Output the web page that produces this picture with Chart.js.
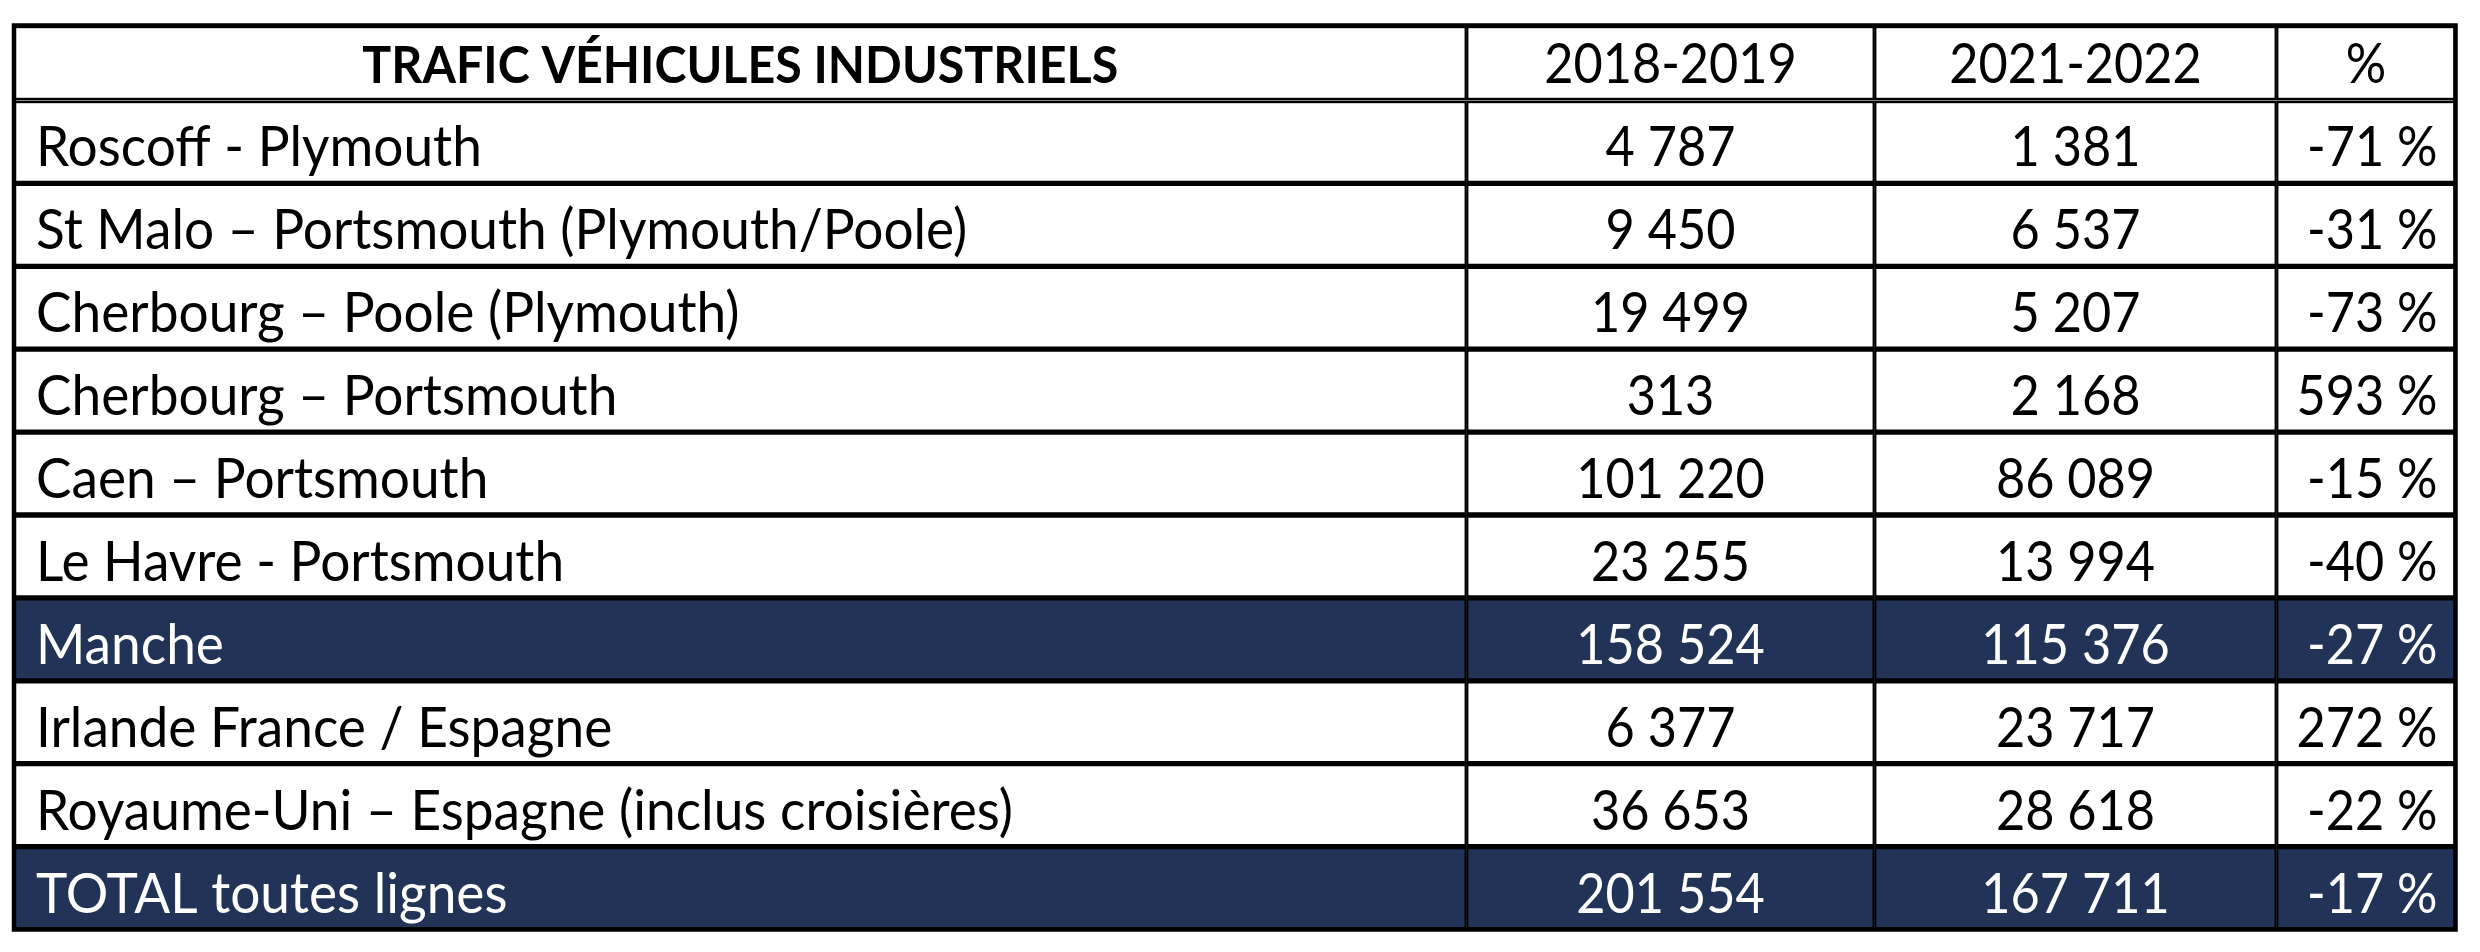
<!DOCTYPE html>
<html lang="fr">
<head>
<meta charset="utf-8">
<title>Trafic véhicules industriels</title>
<script src="https://cdn.jsdelivr.net/npm/chart.js"></script>
<style>
  html, body { margin: 0; padding: 0; background: #fff; }
  #wrap { width: 2480px; height: 952px; }
</style>
</head>
<body>
<div id="wrap"><canvas id="table"></canvas></div>
<script>
const headers = ["TRAFIC VÉHICULES INDUSTRIELS", "2018-2019", "2021-2022", "%"];
const routes = [
  "Roscoff - Plymouth",
  "St Malo – Portsmouth (Plymouth/Poole)",
  "Cherbourg – Poole (Plymouth)",
  "Cherbourg – Portsmouth",
  "Caen – Portsmouth",
  "Le Havre - Portsmouth",
  "Manche",
  "Irlande France / Espagne",
  "Royaume-Uni – Espagne (inclus croisières)",
  "TOTAL toutes lignes"
];
const trafic2019 = [4787, 9450, 19499, 313, 101220, 23255, 158524, 6377, 36653, 201554];
const trafic2022 = [1381, 6537, 5207, 2168, 86089, 13994, 115376, 23717, 28618, 167711];
const evolution = [-71, -31, -73, 593, -15, -40, -27, 272, -22, -17];
const totalRows = ["Manche", "TOTAL toutes lignes"];

// layout (pixels)
const colWidths = [1452.5, 408, 402, 179];
const colEdges = colWidths.reduce((a, w) => a.concat(a[a.length - 1] + w), [0]);
const navy = "#213457";
const condenseHead = 0.93;
const condenseText = 0.95;
const condenseNum = 0.9;

const fmt = n => String(n).replace(/\B(?=(\d{3})+(?!\d))/g, " ");
const cellText = [
  i => routes[i],
  i => fmt(trafic2019[i]),
  i => fmt(trafic2022[i]),
  i => evolution[i] + " %"
];
const isTotal = i => totalRows.includes(routes[i]);

const cellStyle = {
  borderColor: "#000",
  borderWidth: { left: 2.25, right: 2.25, top: 3, bottom: 3 },
  borderSkipped: false,
  barPercentage: 1,
  categoryPercentage: 1,
  grouped: false
};

const datasets = [];
headers.forEach((h, c) => {
  datasets.push({
    ...cellStyle, label: h, yAxisID: "yh", col: c, header: true,
    data: [[colEdges[c], colEdges[c + 1]]],
    backgroundColor: "#fff"
  });
  datasets.push({
    ...cellStyle, label: h, yAxisID: "y", col: c, header: false,
    data: routes.map(() => [colEdges[c], colEdges[c + 1]]),
    backgroundColor: routes.map((r, i) => isTotal(i) ? navy : "#fff")
  });
});

const cellLabels = {
  id: "cellLabels",
  afterDatasetsDraw(chart) {
    const ctx = chart.ctx;
    const area = chart.chartArea;
    ctx.save();
    ctx.strokeStyle = "#000";
    ctx.lineWidth = 4.5;
    ctx.strokeRect(area.left, area.top, area.right - area.left, area.bottom - area.top);

    chart.data.datasets.forEach((ds, d) => {
      chart.getDatasetMeta(d).data.forEach((bar, i) => {
        const { x, base, y } = bar.getProps(["x", "base", "y"], true);
        const left = Math.min(x, base), right = Math.max(x, base);
        let text, align, tx, ty, sx;
        ctx.fillStyle = "#000";
        if (ds.header) {
          text = headers[ds.col];
          ctx.font = ds.col === 0 ? "bold 52px Lato" : "56px Lato";
          sx = ds.col === 0 ? condenseHead : condenseNum;
          align = "center"; tx = (left + right) / 2; ty = y + 20;
        } else {
          text = cellText[ds.col](i);
          ctx.font = "56px Lato";
          sx = ds.col === 0 ? condenseText : condenseNum;
          if (isTotal(i)) ctx.fillStyle = "#fff";
          ty = y + 24.5;
          if (ds.col === 0) { align = "left"; tx = left + 22; }
          else if (ds.col === 3) { align = "right"; tx = right - 18; }
          else { align = "center"; tx = (left + right) / 2; }
        }
        ctx.textAlign = align;
        ctx.textBaseline = "alphabetic";
        ctx.save();
        ctx.translate(tx, ty);
        ctx.scale(sx, 1);
        ctx.fillText(text, 0, 0);
        ctx.restore();
      });
    });
    ctx.restore();
  }
};

new Chart(document.getElementById("table"), {
  type: "bar",
  data: { labels: routes, datasets },
  options: {
    indexAxis: "y",
    responsive: true,
    maintainAspectRatio: false,
    animation: false,
    layout: { padding: { left: 14, top: 25.5, right: 24.5, bottom: 22.5 } },
    plugins: { legend: { display: false }, tooltip: { enabled: false } },
    scales: {
      x: { type: "linear", min: 0, max: colEdges[colEdges.length - 1], display: false },
      y: { type: "category", labels: routes, position: "left", stack: "rows", stackWeight: 829, display: false },
      yh: { type: "category", labels: ["entête"], position: "left", stack: "rows", stackWeight: 75, display: false }
    }
  },
  plugins: [cellLabels]
});
</script>
</body>
</html>
